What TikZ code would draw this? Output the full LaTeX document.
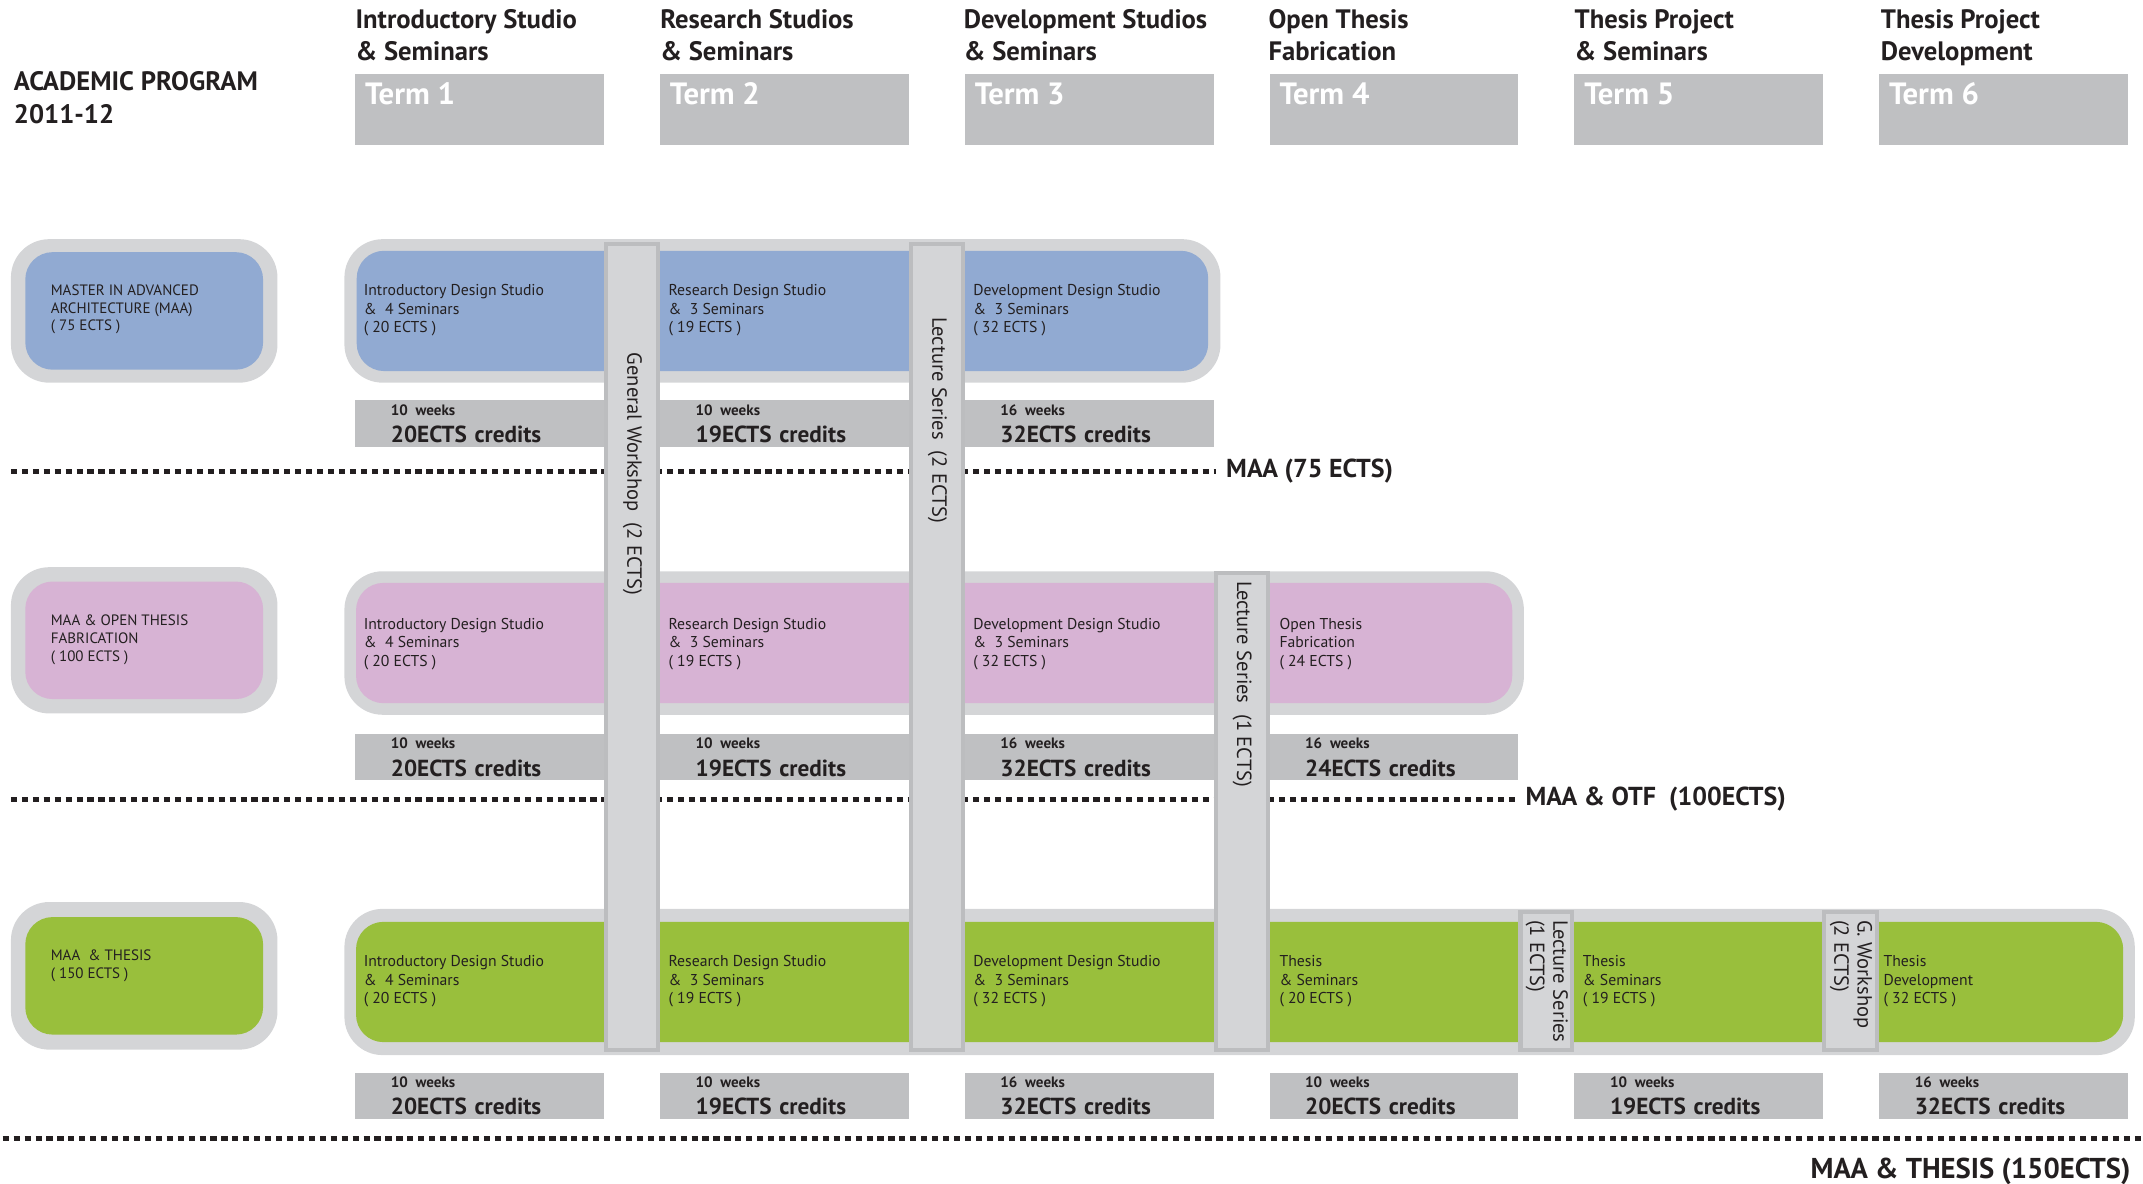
\documentclass[tikz,border=0pt]{standalone}
\usepackage{fontspec}
\setmainfont{PT Sans}
\usetikzlibrary{positioning}

\definecolor{maablue}{RGB}{145,170,210}
\definecolor{otfpink}{RGB}{215,179,212}
\definecolor{thesisgreen}{RGB}{153,191,60}
\definecolor{rimgray}{RGB}{212,213,215}
\definecolor{termgray}{RGB}{191,192,194}
\definecolor{baredge}{RGB}{188,189,191}
\definecolor{inkdark}{RGB}{35,31,32}

\begin{document}
\begin{tikzpicture}[
    x=1pt, y=-1pt,
    node distance=41pt,
    every node/.style={text=inkdark},
    head/.style={
        anchor=north west,
        inner sep=0pt,
        align=left,
        font=\fontsize{19.5}{23}\selectfont\bfseries
    },
    term/.style={
        fill=termgray,
        minimum width=182pt,
        minimum height=52pt,
        inner sep=0pt,
        outer sep=0pt
    },
    termtxt/.style={
        anchor=north west,
        inner sep=0pt,
        text=white,
        font=\fontsize{22.5}{24}\selectfont\bfseries
    },
    rim/.style={
        fill=rimgray,
        rounded corners=28pt,
        inner sep=0pt,
        outer sep=0pt
    },
    prog/.style={
        rounded corners=20pt,
        inner sep=0pt,
        outer sep=0pt,
        minimum width=174pt,
        minimum height=86pt
    },
    small/.style={
        anchor=north west,
        inner sep=0pt,
        align=left,
        font=\fontsize{11.5}{13.5}\selectfont
    },
    credit/.style={
        fill=termgray,
        minimum width=182pt,
        minimum height=34pt,
        text width=130pt,
        inner xsep=26pt,
        inner ysep=0pt,
        outer sep=0pt,
        align=left,
        font=\fontsize{17}{20}\selectfont\bfseries
    },
    bar/.style={
        fill=rimgray,
        draw=baredge,
        line width=3pt,
        inner sep=0pt,
        outer sep=0pt,
        anchor=north west
    },
    bartxt/.style={
        anchor=north west,
        rotate=-90,
        inner sep=0pt,
        align=left,
        font=\fontsize{15}{17}\selectfont
    },
    dots/.style={
        draw=inkdark,
        line width=4pt,
        dash pattern=on 4.5pt off 3.5pt
    },
    total/.style={
        inner sep=0pt,
        font=\fontsize{19}{22}\selectfont\bfseries
    }
]
\useasboundingbox (0,0) rectangle (1568,866);

% header
\node[head, font=\fontsize{19.5}{24}\selectfont\bfseries] (prog) at (10,52) {ACADEMIC PROGRAM\\2011-12};

\node[head] (h1) at (260,7) {Introductory Studio\\\& Seminars};
\node[head] (h2) at (483,7) {Research Studios\\\& Seminars};
\node[head] (h3) at (705,7) {Development Studios\\\& Seminars};
\node[head] (h4) at (928,7) {Open Thesis\\Fabrication};
\node[head] (h5) at (1152,7) {Thesis Project\\\& Seminars};
\node[head] (h6) at (1376,7) {Thesis Project\\Development};

\node[term, anchor=north west] (t1) at (260,54) {};
\node[term, right=of t1] (t2) {};
\node[term, right=of t2] (t3) {};
\node[term, right=of t3] (t4) {};
\node[term, right=of t4] (t5) {};
\node[term, right=of t5] (t6) {};
\node[termtxt] at ([shift={(7,6.5)}]t1.north west) {Term 1};
\node[termtxt] at ([shift={(7,6.5)}]t2.north west) {Term 2};
\node[termtxt] at ([shift={(7,6.5)}]t3.north west) {Term 3};
\node[termtxt] at ([shift={(7,6.5)}]t4.north west) {Term 4};
\node[termtxt] at ([shift={(7,6.5)}]t5.north west) {Term 5};
\node[termtxt] at ([shift={(7,6.5)}]t6.north west) {Term 6};

% MAA row
\node[rim, anchor=north west, minimum width=195pt, minimum height=105pt] (maa) at (8,175) {};
\node[prog, fill=maablue] at (maa.center) {};
\node[small, font=\fontsize{11}{13}\selectfont] at (37,208) {MASTER IN ADVANCED\\ARCHITECTURE (MAA)\\( 75 ECTS )};

\node[rim, anchor=north west, minimum width=641pt, minimum height=105pt] (band1) at (252,175) {};
\node[rim, fill=maablue, rounded corners=20pt, minimum width=623pt, minimum height=88pt] at (band1.center) {};
\node[small] at (266,208) {Introductory Design Studio\\\&\ \ 4 Seminars\\( 20 ECTS )};
\node[small] at (489,208) {Research Design Studio\\\&\ \ 3 Seminars\\( 19 ECTS )};
\node[small] at (712,208) {Development Design Studio\\\&\ \ 3 Seminars\\( 32 ECTS )};

\node[credit, anchor=north west] (c11) at (260,293) {{\fontsize{11}{11}\selectfont 10 weeks}\\20ECTS credits};
\node[credit, right=of c11] (c12) {{\fontsize{11}{11}\selectfont 10 weeks}\\19ECTS credits};
\node[credit, right=of c12] (c13) {{\fontsize{11}{11}\selectfont 16 weeks}\\32ECTS credits};

\node[total, anchor=west] (tot1) at (897,345) {MAA (75 ECTS)};
\draw[dots] (8,345) -- ([xshift=-7pt]tot1.west);

% MAA & OTF row
\node[rim, anchor=north west, minimum width=195pt, minimum height=107pt] (otf) at (8,415) {};
\node[prog, fill=otfpink] at (otf.center) {};
\node[small, font=\fontsize{11}{13}\selectfont] at (37,450) {MAA \& OPEN THESIS\\FABRICATION\\( 100 ECTS )};

\node[rim, anchor=north west, minimum width=863pt, minimum height=105pt] (band2) at (252,418) {};
\node[rim, fill=otfpink, rounded corners=20pt, minimum width=846pt, minimum height=88pt] at (band2.center) {};
\node[small] at (266,452) {Introductory Design Studio\\\&\ \ 4 Seminars\\( 20 ECTS )};
\node[small] at (489,452) {Research Design Studio\\\&\ \ 3 Seminars\\( 19 ECTS )};
\node[small] at (712,452) {Development Design Studio\\\&\ \ 3 Seminars\\( 32 ECTS )};
\node[small] at (936,452) {Open Thesis\\Fabrication\\( 24 ECTS )};

\node[credit, anchor=north west] (c21) at (260,537) {{\fontsize{11}{11}\selectfont 10 weeks}\\20ECTS credits};
\node[credit, right=of c21] (c22) {{\fontsize{11}{11}\selectfont 10 weeks}\\19ECTS credits};
\node[credit, right=of c22] (c23) {{\fontsize{11}{11}\selectfont 16 weeks}\\32ECTS credits};
\node[credit, right=of c23] (c24) {{\fontsize{11}{11}\selectfont 16 weeks}\\24ECTS credits};

\node[total, anchor=west] (tot2) at (1116,585) {MAA \& OTF\ \ (100ECTS)};
\draw[dots] (8,585) -- ([xshift=-6pt]tot2.west);

% MAA & THESIS row
\node[rim, anchor=north west, minimum width=195pt, minimum height=108pt] (ths) at (8,660) {};
\node[prog, fill=thesisgreen] at (ths.center) {};
\node[small, font=\fontsize{11}{13}\selectfont] at (37,695) {MAA\ \ \& THESIS\\( 150 ECTS )};

\node[rim, anchor=north west, minimum width=1310pt, minimum height=107pt] (band3) at (252,665) {};
\node[rim, fill=thesisgreen, rounded corners=20pt, minimum width=1293pt, minimum height=88pt] at (band3.center) {};
\node[small] at (266,699) {Introductory Design Studio\\\&\ \ 4 Seminars\\( 20 ECTS )};
\node[small] at (489,699) {Research Design Studio\\\&\ \ 3 Seminars\\( 19 ECTS )};
\node[small] at (712,699) {Development Design Studio\\\&\ \ 3 Seminars\\( 32 ECTS )};
\node[small] at (936,699) {Thesis\\\& Seminars\\( 20 ECTS )};
\node[small] at (1158,699) {Thesis\\\& Seminars\\( 19 ECTS )};
\node[small] at (1378,699) {Thesis\\Development\\( 32 ECTS )};

\node[credit, anchor=north west] (c31) at (260,785) {{\fontsize{11}{11}\selectfont 10 weeks}\\20ECTS credits};
\node[credit, right=of c31] (c32) {{\fontsize{11}{11}\selectfont 10 weeks}\\19ECTS credits};
\node[credit, right=of c32] (c33) {{\fontsize{11}{11}\selectfont 16 weeks}\\32ECTS credits};
\node[credit, right=of c33] (c34) {{\fontsize{11}{11}\selectfont 10 weeks}\\20ECTS credits};
\node[credit, right=of c34] (c35) {{\fontsize{11}{11}\selectfont 10 weeks}\\19ECTS credits};
\node[credit, right=of c35] (c36) {{\fontsize{11}{11}\selectfont 16 weeks}\\32ECTS credits};

\node[total, anchor=east, font=\fontsize{21}{24}\selectfont\bfseries] (tot3) at (1559,857) {MAA \& THESIS (150ECTS)};
\draw[dots] (2,833) -- (1568,833);

% workshops and lecture series
\node[bar, minimum width=38pt, minimum height=590pt] (gw) at (443.5,178.5) {};
\node[bar, minimum width=38pt, minimum height=590pt] (ls2) at (666.5,178.5) {};
\node[bar, minimum width=38pt, minimum height=349pt] (ls1) at (889.5,419.5) {};
\node[bar, minimum width=38pt, minimum height=101pt] (ls1b) at (1112.5,667.5) {};
\node[bar, minimum width=39pt, minimum height=101pt] (gwb) at (1334.5,667.5) {};

\node[bartxt] at ([shift={(7.5,79.5)}]gw.north) {General Workshop\ \ (2 ECTS)};
\node[bartxt] at ([shift={(7.5,53.5)}]ls2.north) {Lecture Series\ \ (2 ECTS)};
\node[bartxt] at ([shift={(7.5,5.5)}]ls1.north) {Lecture Series\ \ (1 ECTS)};
\node[bartxt] at ([shift={(16,5.5)}]ls1b.north) {Lecture Series\\(1 ECTS)};
\node[bartxt] at ([shift={(16,5.5)}]gwb.north) {G. Workshop\\(2 ECTS)};

\end{tikzpicture}
\end{document}
